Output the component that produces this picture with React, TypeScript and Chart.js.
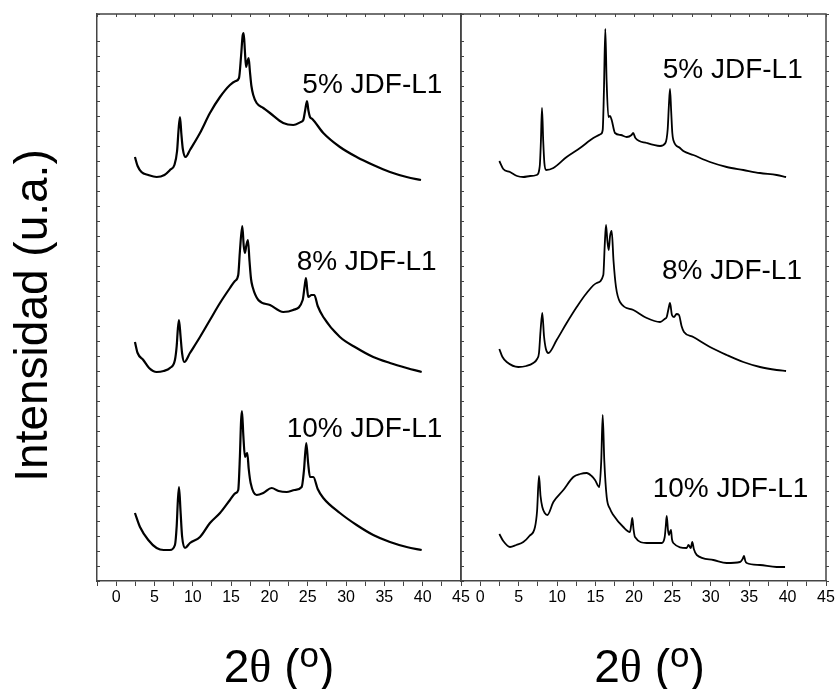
import React, { useEffect, useRef } from 'react';
import { Chart, registerables } from 'chart.js';

Chart.register(...registerables);

const W = 838;
const H = 689;

// ---- Data: 2θ (degrees) and intensity (a.u., stacked offsets) ----
// Left panel
const left5X = [2.45, 2.8, 3.3, 4.19, 5.28, 6.3, 7.02, 7.6, 7.95, 8.15, 8.33, 8.5, 8.7, 9.07, 9.63, 10.94, 12.24, 13.55, 14.85, 15.6, 16.03, 16.3, 16.5, 16.64, 16.8, 16.95, 17.15, 17.29, 17.45, 17.65, 17.89, 18.33, 19.2, 20.07, 21.8, 23.11, 24.1, 24.42, 24.65, 24.9, 25.1, 25.29, 25.6, 27.03, 29.2, 31.38, 33.55, 35.73, 37.91, 39.78];
const left5Y = [424, 415, 409, 406, 404, 406, 411, 416, 430, 452, 464, 448, 432, 424, 431, 448, 468, 484, 496, 500, 503, 525, 545, 548, 530, 514, 520, 523, 510, 495, 486, 478, 473, 468, 458, 456, 459, 461, 470, 480, 470, 464, 462, 448, 434, 424, 416, 409, 404, 401];

const left8X = [2.45, 2.8, 3.54, 4.3, 5.28, 6.2, 7.02, 7.67, 7.9, 8.05, 8.2, 8.4, 8.6, 8.89, 9.63, 10.94, 12.24, 13.55, 14.85, 15.5, 15.93, 16.15, 16.46, 16.65, 16.8, 17.0, 17.2, 17.4, 17.6, 17.81, 18.55, 20.07, 21.8, 23.1, 24.34, 24.6, 24.77, 24.95, 25.07, 25.5, 25.86, 26.3, 27.03, 29.2, 31.38, 33.55, 35.73, 37.91, 39.87];
const left8Y = [239, 228, 221, 213, 209, 210, 213, 221, 235, 252, 261, 245, 228, 219, 228, 244, 261, 278, 293, 300, 306, 330, 355, 335, 328, 336, 341, 320, 302, 294, 281, 276, 269, 271, 281, 295, 303, 290, 284, 286, 286, 275, 264, 244, 233, 224, 218, 213, 209];

const left10X = [2.45, 3.11, 4.19, 5.28, 6.2, 7.02, 7.67, 7.9, 8.05, 8.2, 8.4, 8.6, 8.98, 9.63, 10.94, 12.24, 13.55, 14.85, 15.6, 15.93, 16.15, 16.3, 16.42, 16.6, 16.81, 17.0, 17.11, 17.3, 17.55, 18.33, 19.2, 20.29, 21.2, 22.25, 23.3, 24.21, 24.5, 24.81, 25.05, 25.29, 25.73, 26.3, 27.03, 29.2, 31.38, 33.55, 35.73, 37.91, 39.87];
const left10Y = [68, 54, 41, 33, 31, 31, 36, 55, 80, 94, 70, 45, 33, 38, 44, 58, 68, 81, 88, 91, 125, 160, 170, 145, 124, 127, 128, 112, 98, 86, 88, 93, 90, 89, 91, 94, 110, 138, 118, 104, 104, 92, 83, 68, 56, 46, 39, 34, 31];

// Right panel
const right5X = [2.49, 3.0, 3.88, 4.8, 5.61, 6.5, 7.35, 7.75, 7.9, 8.04, 8.2, 8.35, 8.56, 9.52, 11.25, 12.99, 14.72, 15.7, 15.94, 16.1, 16.28, 16.45, 16.68, 16.9, 17.11, 17.54, 18.3, 19.07, 19.7, 19.9, 20.2, 21.67, 23.4, 24.1, 24.4, 24.55, 24.7, 24.85, 25.0, 25.13, 26.0, 26.43, 27.73, 29.9, 32.08, 34.24, 36.41, 38.58, 39.8];
const right5Y = [420, 412, 409, 405, 404, 405, 406, 415, 440, 473, 440, 418, 411, 413, 424, 433, 443, 447, 451, 490, 552, 500, 464, 465, 461, 448, 446, 444, 446, 448, 443, 438, 435, 438, 452, 475, 492, 470, 448, 441, 433, 430, 426, 419, 414, 411, 408, 406, 404];

const right8X = [2.49, 2.9, 3.45, 4.96, 6.0, 6.91, 7.4, 7.65, 7.85, 8.08, 8.3, 8.55, 8.86, 9.95, 11.25, 12.56, 13.86, 15.16, 16.02, 16.2, 16.37, 16.55, 16.72, 16.9, 17.11, 17.35, 17.67, 18.19, 19.93, 21.67, 23.4, 24.0, 24.27, 24.5, 24.7, 24.95, 25.22, 25.55, 25.87, 26.2, 26.52, 27.73, 29.9, 32.08, 34.24, 36.41, 38.58, 39.8];
const right8Y = [232, 224, 219, 214, 215, 218, 222, 228, 250, 268, 245, 232, 228, 241, 258, 274, 288, 298, 306, 335, 356, 340, 331, 345, 350, 320, 294, 279, 271, 263, 259, 262, 264, 272, 278, 266, 264, 267, 266, 255, 249, 244, 234, 226, 219, 214, 211, 210];

const right10X = [2.49, 3.0, 3.88, 4.7, 5.61, 6.4, 7.13, 7.4, 7.65, 7.85, 8.08, 8.4, 8.73, 9.52, 10.82, 12.12, 13.0, 13.86, 14.5, 14.94, 15.5, 15.75, 15.94, 16.15, 16.46, 16.9, 17.32, 18.62, 19.49, 19.65, 19.79, 19.95, 20.14, 21.67, 23.62, 24.01, 24.15, 24.27, 24.45, 24.57, 24.7, 24.83, 24.95, 25.13, 26.87, 27.1, 27.4, 27.6, 27.8, 28.18, 30.34, 32.08, 33.81, 34.15, 34.33, 34.5, 34.68, 36.41, 38.58, 39.67];
const right10Y = [47, 40, 34, 36, 39, 45, 54, 70, 105, 85, 74, 68, 66, 79, 91, 104, 107, 108, 105, 101, 94, 120, 166, 120, 84, 72, 66, 54, 49, 56, 63, 52, 44, 38, 38, 44, 55, 65, 50, 46, 49, 51, 42, 38, 33, 36, 33, 39, 32, 26, 21, 18, 19, 22, 25, 20, 18, 16, 14, 14];

// Sample labels and their anchor (2θ, intensity) in each panel
const sampleNames = ['5% JDF-L1', '8% JDF-L1', '10% JDF-L1'];
const leftLabelX = [24.3, 23.55, 22.25];
const leftLabelY = [488, 311, 144];
const rightLabelX = [23.75, 23.65, 22.45];
const rightLabelY = [503, 302, 84];

// Axis settings
const xMin = -2.5;
const xMax = 45;
const xStep = 2.5;
const yMin = 0;
const yMax = 567;
const yStep = 15;

const SANS = '"Liberation Sans", Arial, Helvetica, sans-serif';
const SERIF = '"Liberation Serif", "Times New Roman", serif';
const AXIS_COLOR = '#444';

type Panel = {
  xs: number[][];
  ys: number[][];
  labelX: number[];
  labelY: number[];
  yWidth: number;
  padRight: number;
  showYTitle: boolean;
  lineWidth: number;
  titleShift: number;
};

const panels: Panel[] = [
  {
    xs: [left5X, left8X, left10X],
    ys: [left5Y, left8Y, left10Y],
    labelX: leftLabelX,
    labelY: leftLabelY,
    yWidth: 97,
    padRight: W - 461,
    showYTitle: true,
    lineWidth: 2.2,
    titleShift: 0,
  },
  {
    xs: [right5X, right8X, right10X],
    ys: [right5Y, right8Y, right10Y],
    labelX: rightLabelX,
    labelY: rightLabelY,
    yWidth: 461,
    padRight: W - 826,
    showYTitle: false,
    lineWidth: 1.8,
    titleShift: 6,
  },
];

function drawXTitle(ctx: CanvasRenderingContext2D, cx: number, baseline: number) {
  const parts: { t: string; f: string; dy: number }[] = [
    { t: '2', f: `46px ${SANS}`, dy: 0 },
    { t: 'θ', f: `46px ${SERIF}`, dy: 0 },
    { t: ' (', f: `46px ${SANS}`, dy: 0 },
    { t: 'o', f: `35px ${SANS}`, dy: -15 },
    { t: ')', f: `46px ${SANS}`, dy: 0 },
  ];
  let total = 0;
  const widths = parts.map((p) => {
    ctx.font = p.f;
    const w = ctx.measureText(p.t).width;
    total += w;
    return w;
  });
  let x = cx - total / 2;
  ctx.textAlign = 'left';
  ctx.textBaseline = 'alphabetic';
  ctx.fillStyle = '#000';
  parts.forEach((p, i) => {
    ctx.font = p.f;
    ctx.fillText(p.t, x, baseline + p.dy);
    x += widths[i];
  });
}

function makeDecorPlugin(panel: Panel) {
  return {
    id: 'decor',
    afterDraw(chart: any) {
      const { ctx, chartArea } = chart;
      const xs = chart.scales.x;
      const ys = chart.scales.y;
      ctx.save();
      // frame top and right
      ctx.strokeStyle = AXIS_COLOR;
      ctx.lineWidth = 1.5;
      ctx.beginPath();
      ctx.moveTo(chartArea.left, chartArea.top);
      ctx.lineTo(chartArea.right, chartArea.top);
      ctx.lineTo(chartArea.right, chartArea.bottom);
      ctx.stroke();
      // inward minor ticks
      ctx.lineWidth = 1;
      ctx.beginPath();
      xs.ticks.forEach((t: any) => {
        const px = Math.round(xs.getPixelForValue(t.value)) + 0.5;
        ctx.moveTo(px, chartArea.top);
        ctx.lineTo(px, chartArea.top + 3);
      });
      ys.ticks.forEach((t: any) => {
        const py = Math.round(ys.getPixelForValue(t.value)) + 0.5;
        ctx.moveTo(chartArea.left, py);
        ctx.lineTo(chartArea.left + 3, py);
        ctx.moveTo(chartArea.right, py);
        ctx.lineTo(chartArea.right + 3, py);
      });
      ctx.stroke();

      // sample labels
      ctx.fillStyle = '#000';
      ctx.font = `28px ${SANS}`;
      ctx.textAlign = 'left';
      ctx.textBaseline = 'alphabetic';
      sampleNames.forEach((name, i) => {
        ctx.fillText(name, xs.getPixelForValue(panel.labelX[i]), ys.getPixelForValue(panel.labelY[i]));
      });

      // x title
      drawXTitle(ctx, (chartArea.left + chartArea.right) / 2 + panel.titleShift, 682);

      // y title
      if (panel.showYTitle) {
        ctx.save();
        ctx.translate(47, (chartArea.top + chartArea.bottom) / 2 + 18);
        ctx.rotate(-Math.PI / 2);
        ctx.font = `46px ${SANS}`;
        ctx.textAlign = 'center';
        ctx.textBaseline = 'alphabetic';
        ctx.fillStyle = '#000';
        ctx.fillText('Intensidad (u.a.)', 0, 0);
        ctx.restore();
      }
      ctx.restore();
    },
  };
}

function PanelChart({ panel }: { panel: Panel }) {
  const ref = useRef<HTMLCanvasElement | null>(null);
  useEffect(() => {
    if (!ref.current) return;
    const chart = new Chart(ref.current, {
      type: 'line',
      data: {
        datasets: panel.xs.map((xArr, si) => ({
          data: xArr.map((x, i) => ({ x, y: panel.ys[si][i] })),
          borderColor: '#000',
          borderWidth: panel.lineWidth,
          borderJoinStyle: 'round',
          cubicInterpolationMode: 'monotone',
          pointRadius: 0,
          fill: false,
        })),
      },
      options: {
        responsive: false,
        animation: false,
        events: [],
        layout: { padding: { left: 0, right: panel.padRight, top: 14, bottom: 0 } },
        plugins: { legend: { display: false }, tooltip: { enabled: false } },
        scales: {
          x: {
            type: 'linear',
            min: xMin,
            max: xMax,
            ticks: {
              stepSize: xStep,
              autoSkip: false,
              maxRotation: 0,
              padding: 2,
              color: '#000',
              font: { family: SANS, size: 16 },
              callback: (v: any) => (Number(v) >= 0 && Number(v) % 5 === 0 ? String(v) : ''),
            },
            grid: { drawOnChartArea: false, drawTicks: true, tickLength: 5, color: AXIS_COLOR, lineWidth: 1 },
            border: { display: true, color: AXIS_COLOR, width: 1.5 },
            afterFit: (s: any) => {
              s.height = H - 581;
            },
          },
          y: {
            type: 'linear',
            min: yMin,
            max: yMax,
            ticks: { display: false, stepSize: yStep },
            grid: { display: false },
            border: { display: true, color: AXIS_COLOR, width: 1.5 },
            afterFit: (s: any) => {
              s.width = panel.yWidth;
            },
          },
        },
      },
      plugins: [makeDecorPlugin(panel)],
    } as any);
    return () => chart.destroy();
  }, [panel]);
  return (
    <canvas
      ref={ref}
      width={W}
      height={H}
      style={{ position: 'absolute', left: 0, top: 0, width: W, height: H }}
    />
  );
}

export default function App() {
  return (
    <div style={{ position: 'absolute', left: 0, top: 0, width: W, height: H, background: '#fff' }}>
      {panels.map((p, i) => (
        <PanelChart key={i} panel={p} />
      ))}
    </div>
  );
}
